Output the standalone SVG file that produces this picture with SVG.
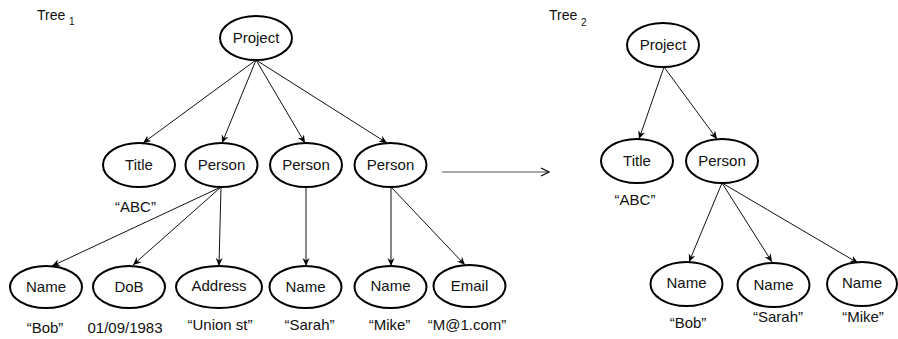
<svg xmlns="http://www.w3.org/2000/svg" width="898" height="339" viewBox="0 0 898 339">
<style>
.n ellipse{fill:#fff;stroke:#000;stroke-width:2}
text{font-family:"Liberation Sans",Arial,sans-serif;font-size:15px;fill:#111;text-anchor:middle}
.lbl{font-size:14px;text-anchor:start}
.sub{font-size:10px;text-anchor:start}
.e line{stroke:#111;stroke-width:1;marker-end:url(#ah)}
</style>
<defs>
<marker id="ah" markerUnits="userSpaceOnUse" markerWidth="10" markerHeight="8" refX="8" refY="3.5" orient="auto">
<path d="M0,0 L8,3.5 L0,7 L2.5,3.5 z" fill="#000"/>
</marker>
<marker id="open" markerUnits="userSpaceOnUse" markerWidth="12" markerHeight="12" refX="9" refY="5" orient="auto">
<path d="M1,1 L9,5 L1,9" fill="none" stroke="#000" stroke-width="1.2"/>
</marker>
</defs>
<text class="lbl" x="37" y="20">Tree</text><text class="sub" x="69" y="25">1</text>
<text class="lbl" x="549" y="20">Tree</text><text class="sub" x="581" y="26">2</text>
<g id="connectors" class="e">
<line x1="256" y1="60" x2="143" y2="143"/>
<line x1="256" y1="60" x2="222" y2="143"/>
<line x1="256" y1="60" x2="305" y2="143"/>
<line x1="256" y1="60" x2="387" y2="143"/>
<line x1="221" y1="187" x2="52" y2="266"/>
<line x1="221" y1="187" x2="133" y2="265"/>
<line x1="221" y1="187" x2="219" y2="266"/>
<line x1="306" y1="187" x2="306" y2="266"/>
<line x1="391" y1="187" x2="391" y2="266"/>
<line x1="391" y1="187" x2="465" y2="265"/>
<line x1="664" y1="67" x2="639" y2="139"/>
<line x1="664" y1="67" x2="717" y2="139"/>
<line x1="722" y1="183" x2="689" y2="262"/>
<line x1="722" y1="183" x2="772" y2="262"/>
<line x1="722" y1="183" x2="858" y2="263"/>
<line x1="442" y1="172" x2="549" y2="172" style="stroke:#555;marker-end:url(#open)"/>
</g>
<g id="t1-project" class="n"><ellipse cx="256" cy="38" rx="36" ry="22"/><text x="256" y="43">Project</text></g>
<g id="t1-title" class="n"><ellipse cx="139" cy="165" rx="36" ry="22"/><text x="139" y="170">Title</text></g>
<g id="t1-person1" class="n"><ellipse cx="221.5" cy="165" rx="36" ry="22"/><text x="221.5" y="170">Person</text></g>
<g id="t1-person2" class="n"><ellipse cx="306" cy="165" rx="36" ry="22"/><text x="306" y="170">Person</text></g>
<g id="t1-person3" class="n"><ellipse cx="390.5" cy="165" rx="36" ry="22"/><text x="390.5" y="170">Person</text></g>
<g id="t1-name1" class="n"><ellipse cx="46" cy="287" rx="36" ry="21"/><text x="46" y="292">Name</text></g>
<g id="t1-dob" class="n"><ellipse cx="129" cy="287" rx="36" ry="21"/><text x="129" y="292">DoB</text></g>
<g id="t1-address" class="n"><ellipse cx="219" cy="287" rx="43" ry="21"/><text x="219" y="291">Address</text></g>
<g id="t1-name2" class="n"><ellipse cx="305.5" cy="287" rx="36" ry="21"/><text x="305.5" y="292">Name</text></g>
<g id="t1-name3" class="n"><ellipse cx="390.5" cy="287" rx="36" ry="21"/><text x="390.5" y="291">Name</text></g>
<g id="t1-email" class="n"><ellipse cx="469.5" cy="286" rx="36" ry="21"/><text x="469.5" y="291">Email</text></g>
<g id="t2-project" class="n"><ellipse cx="663" cy="45" rx="36" ry="22"/><text x="663" y="50">Project</text></g>
<g id="t2-title" class="n"><ellipse cx="637" cy="161" rx="36" ry="22"/><text x="637" y="166">Title</text></g>
<g id="t2-person" class="n"><ellipse cx="722" cy="161" rx="36" ry="22"/><text x="722" y="166">Person</text></g>
<g id="t2-name1" class="n"><ellipse cx="686.5" cy="284" rx="36" ry="22"/><text x="686.5" y="288">Name</text></g>
<g id="t2-name2" class="n"><ellipse cx="773.5" cy="285" rx="36" ry="22"/><text x="773.5" y="290">Name</text></g>
<g id="t2-name3" class="n"><ellipse cx="862" cy="284" rx="35" ry="22"/><text x="862" y="288">Name</text></g>
<g id="values">
<text x="135.5" y="212">“ABC”</text>
<text x="45" y="333">“Bob”</text>
<text x="125" y="333">01/09/1983</text>
<text x="220" y="330">“Union st”</text>
<text x="309.5" y="330">“Sarah”</text>
<text x="389.5" y="330">“Mike”</text>
<text x="467" y="330">“M@1.com”</text>
<text x="635" y="205">“ABC”</text>
<text x="688" y="328">“Bob”</text>
<text x="778" y="322">“Sarah”</text>
<text x="863" y="322">“Mike”</text>
</g>
</svg>
